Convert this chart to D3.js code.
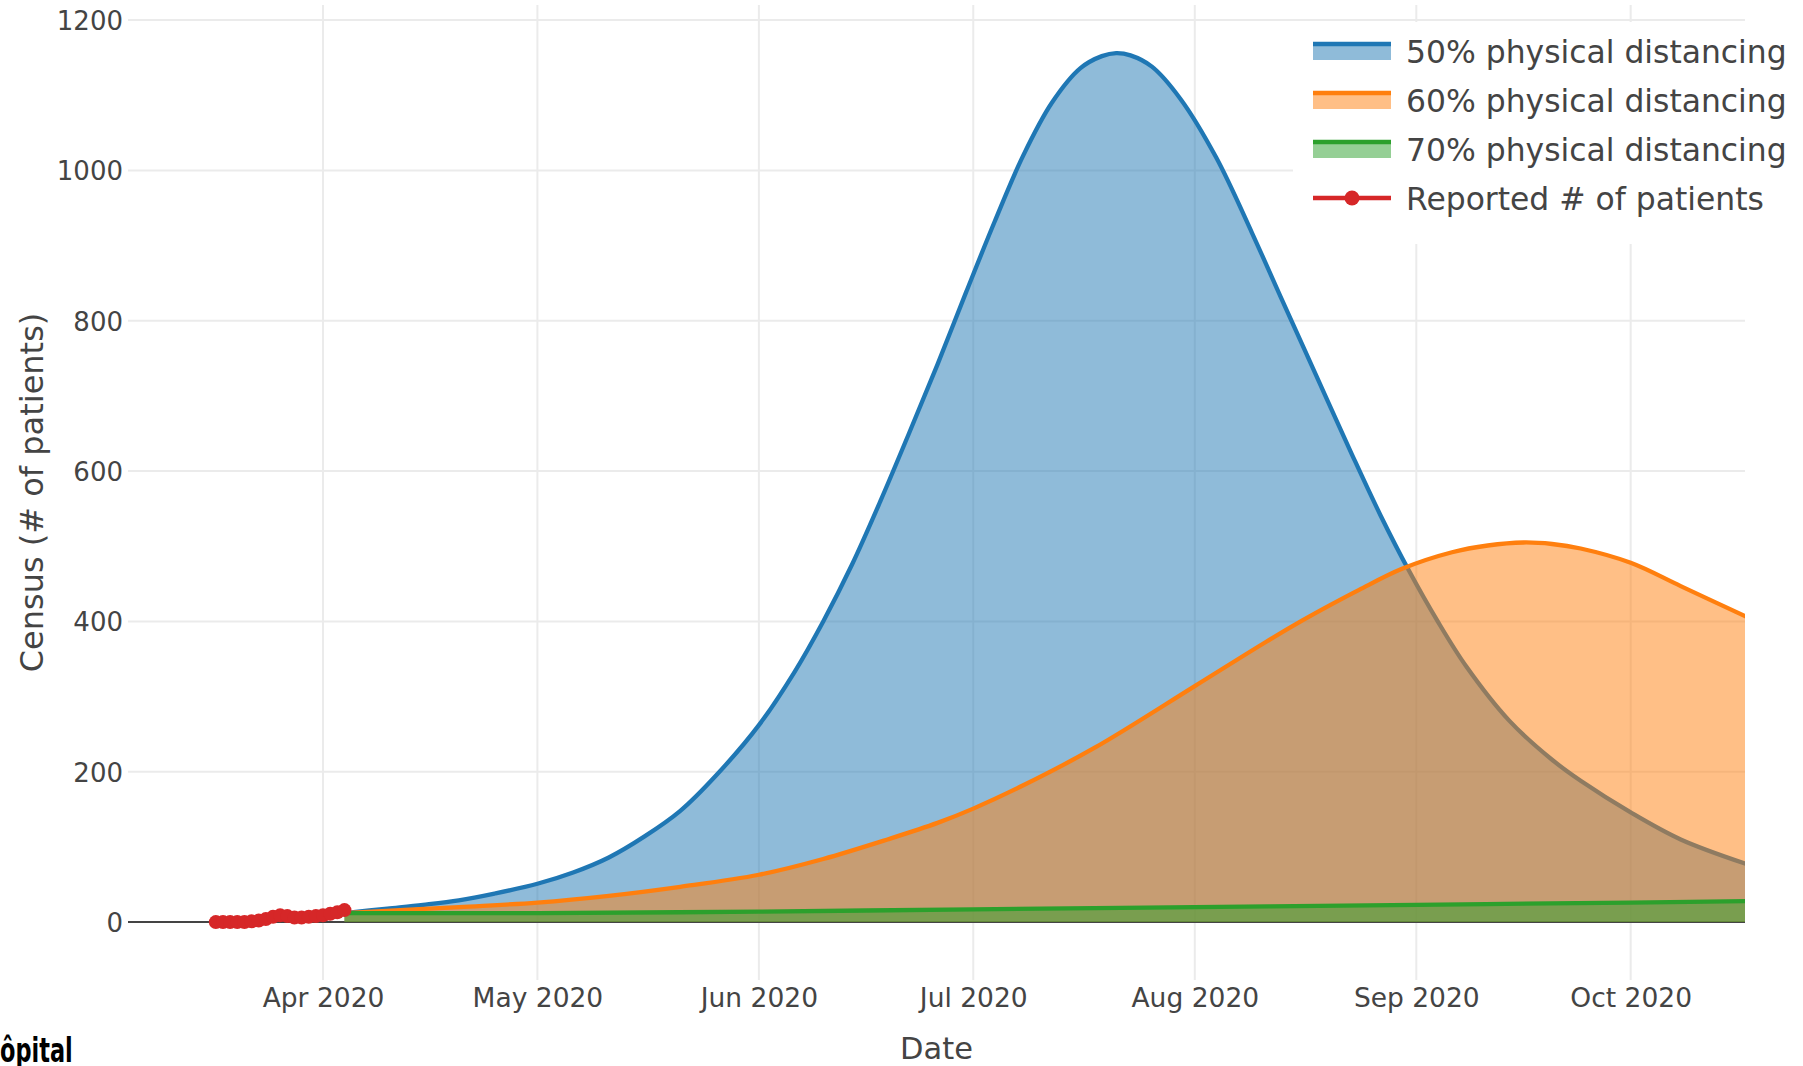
<!DOCTYPE html>
<html>
<head>
<meta charset="utf-8">
<script src="https://cdn.jsdelivr.net/npm/d3@7"></script>
<style>
  body { margin: 0; background: #fff; }
  svg { display: block; }
  text { font-family: "DejaVu Sans", Verdana, sans-serif; }
</style>
</head>
<body>
<svg id="chart" width="1803" height="1066"></svg>
<script>
// ---------------- DATA ----------------
const seriesNames = ["50% physical distancing", "60% physical distancing", "70% physical distancing", "Reported # of patients"];

const blueDates = ["2020-04-04","2020-04-10","2020-04-15","2020-04-20","2020-04-25","2020-05-01","2020-05-06","2020-05-11","2020-05-16","2020-05-21","2020-05-26","2020-06-01","2020-06-06","2020-06-10","2020-06-14","2020-06-18","2020-06-22","2020-06-26","2020-06-30","2020-07-04","2020-07-08","2020-07-12","2020-07-16","2020-07-19","2020-07-21","2020-07-23","2020-07-26","2020-07-30","2020-08-04","2020-08-09","2020-08-13","2020-08-18","2020-08-23","2020-08-27","2020-08-31","2020-09-04","2020-09-08","2020-09-14","2020-09-20","2020-09-24","2020-10-01","2020-10-08","2020-10-17"];
const blueValues = [12,18,23,29,38,51,66,86,114,148,195,262,333,400,475,560,650,742,838,932,1020,1090,1136,1152,1156,1153,1138,1095,1017,917,832,727,622,541,467,400,340,268,216,188,146,110,78];

const orangeDates = ["2020-04-04","2020-04-20","2020-05-01","2020-05-11","2020-05-21","2020-06-01","2020-06-10","2020-06-19","2020-06-26","2020-07-01","2020-07-08","2020-07-18","2020-08-01","2020-08-11","2020-08-16","2020-08-20","2020-08-24","2020-08-30","2020-09-06","2020-09-11","2020-09-16","2020-09-20","2020-09-24","2020-10-01","2020-10-08","2020-10-17"];
const orangeValues = [12,20,26,35,47,63,84,110,132,151,182,232,314,373,401,422,442,470,492,501,505,503,497,478,447,407];

const greenDates = ["2020-04-04","2020-04-20","2020-05-01","2020-06-01","2020-07-01","2020-08-01","2020-09-01","2020-10-01","2020-10-17"];
const greenValues = [12,12,12,14,17,20,23,26,28];

const redDates = ["2020-03-17","2020-03-18","2020-03-19","2020-03-20","2020-03-21","2020-03-22","2020-03-23","2020-03-24","2020-03-25","2020-03-26","2020-03-27","2020-03-28","2020-03-29","2020-03-30","2020-03-31","2020-04-01","2020-04-02","2020-04-03","2020-04-04"];
const redValues = [0,0,0,0,0,1,2,4,7,9,8,6,6,7,8,9,11,13,16];

const xTickDates = ["2020-04-01","2020-05-01","2020-06-01","2020-07-01","2020-08-01","2020-09-01","2020-10-01"];
const yTickValues = [0,200,400,600,800,1000,1200];

const xTitle = "Date";
const yTitle = "Census (# of patients)";
const cornerText = "ôpital";

// ---------------- SETUP ----------------
const parse = d3.utcParse("%Y-%m-%d");
const zip = (ds, vs) => ds.map((d, i) => ({ date: parse(d), value: vs[i] }));
const blue = zip(blueDates, blueValues);
const orange = zip(orangeDates, orangeValues);
const green = zip(greenDates, greenValues);
const red = zip(redDates, redValues);

const plot = { left: 128, right: 1745, top: 5, bottom: 980 };
const svg = d3.select("#chart");

const x = d3.scaleUtc()
  .domain([new Date(Date.UTC(2020, 2, 4, 17)), new Date(Date.UTC(2020, 9, 17))])
  .range([plot.left, plot.right]);
const y = d3.scaleLinear().domain([-77, 1220]).range([plot.bottom, plot.top]);

const textColor = "#444";
const gridColor = "#ebebeb";

// grid lines
const gx = svg.append("g");
gx.selectAll("line.v").data(xTickDates.map(parse)).enter().append("line")
  .attr("x1", d => x(d)).attr("x2", d => x(d))
  .attr("y1", plot.top).attr("y2", plot.bottom)
  .attr("stroke", gridColor).attr("stroke-width", 2);
gx.selectAll("line.h").data(yTickValues.filter(v => v !== 0)).enter().append("line")
  .attr("x1", plot.left).attr("x2", plot.right)
  .attr("y1", d => y(d)).attr("y2", d => y(d))
  .attr("stroke", gridColor).attr("stroke-width", 2);
// zero line
svg.append("line")
  .attr("x1", plot.left).attr("x2", plot.right)
  .attr("y1", y(0)).attr("y2", y(0))
  .attr("stroke", textColor).attr("stroke-width", 2);

// axes via d3 axis generators (no domain / tick marks, like plotly)
const xAxis = d3.axisBottom(x).tickValues(xTickDates.map(parse))
  .tickFormat(d3.utcFormat("%b %Y")).tickSize(0).tickPadding(0);
const xg = svg.append("g").attr("transform", `translate(0,${plot.bottom})`).call(xAxis);
xg.select(".domain").remove();
xg.selectAll("text").attr("font-size", 26.5).attr("fill", textColor)
  .attr("font-family", "DejaVu Sans, Verdana, sans-serif")
  .attr("y", 27).attr("dy", 0);

const yAxis = d3.axisLeft(y).tickValues(yTickValues).tickFormat(d3.format("d")).tickSize(0).tickPadding(5);
const yg = svg.append("g").attr("transform", `translate(${plot.left},0)`).call(yAxis);
yg.select(".domain").remove();
yg.selectAll("text").attr("font-size", 26).attr("fill", textColor)
  .attr("font-family", "DejaVu Sans, Verdana, sans-serif")
  .attr("dy", "0.36em");

// axis titles
svg.append("text").attr("x", (plot.left + plot.right) / 2).attr("y", 1059)
  .attr("text-anchor", "middle").attr("font-size", 30.5).attr("fill", textColor).text(xTitle);
svg.append("text").attr("transform", `translate(43,${(plot.top + plot.bottom) / 2}) rotate(-90)`)
  .attr("text-anchor", "middle").attr("font-size", 32).attr("fill", textColor).text(yTitle);

// traces
const colors = ["#1f77b4", "#ff7f0e", "#2ca02c", "#d62728"];
const fills = ["rgba(31,119,180,0.5)", "rgba(255,127,14,0.5)", "rgba(44,160,44,0.5)"];
const lw = 4.3;
const curve = d3.curveCatmullRom.alpha(0.5);
const area = d3.area().x(d => x(d.date)).y0(y(0)).y1(d => y(d.value)).curve(curve);
const line = d3.line().x(d => x(d.date)).y(d => y(d.value)).curve(curve);

svg.append("clipPath").attr("id", "plotclip").append("rect")
  .attr("x", plot.left).attr("y", plot.top)
  .attr("width", plot.right - plot.left).attr("height", plot.bottom - plot.top);

const traces = svg.append("g").attr("clip-path", "url(#plotclip)");
[blue, orange, green].forEach((data, i) => {
  traces.append("path").datum(data).attr("d", area).attr("fill", fills[i]);
  traces.append("path").datum(data).attr("d", line).attr("fill", "none")
    .attr("stroke", colors[i]).attr("stroke-width", lw)
    .attr("stroke-linejoin", "round").attr("stroke-linecap", "round");
});
const redLine = d3.line().x(d => x(d.date)).y(d => y(d.value));
traces.append("path").datum(red).attr("d", redLine).attr("fill", "none")
  .attr("stroke", colors[3]).attr("stroke-width", lw).attr("stroke-linejoin", "round");
traces.selectAll("circle.red").data(red).enter().append("circle")
  .attr("cx", d => x(d.date)).attr("cy", d => y(d.value)).attr("r", 7)
  .attr("fill", colors[3]);

// legend
const lg = svg.append("g");
lg.append("rect").attr("x", 1293).attr("y", 22).attr("width", 510).attr("height", 222).attr("fill", "#fff");
const rowY = i => 51 + 49 * i;
seriesNames.forEach((name, i) => {
  const cy = rowY(i);
  if (i < 3) {
    lg.append("rect").attr("x", 1313).attr("y", cy - 9).attr("width", 78).attr("height", 18).attr("fill", fills[i]);
    lg.append("line").attr("x1", 1313).attr("x2", 1391).attr("y1", cy - 7).attr("y2", cy - 7)
      .attr("stroke", colors[i]).attr("stroke-width", lw);
  } else {
    lg.append("line").attr("x1", 1313).attr("x2", 1391).attr("y1", cy).attr("y2", cy)
      .attr("stroke", colors[i]).attr("stroke-width", lw);
    lg.append("circle").attr("cx", 1352).attr("cy", cy).attr("r", 7.5).attr("fill", colors[i]);
  }
  lg.append("text").attr("x", 1406).attr("y", cy + 12).attr("font-size", 31.4)
    .attr("fill", textColor).text(name);
});

// corner fragment text (condensed bold, cut at the page edge as in the reference)
svg.append("text").attr("transform", "translate(0,1062) scale(0.66,1)")
  .attr("font-family", "'DejaVu Sans', sans-serif")
  .attr("font-weight", "bold").attr("font-size", 34).attr("fill", "#000").text(cornerText);
</script>
</body>
</html>
